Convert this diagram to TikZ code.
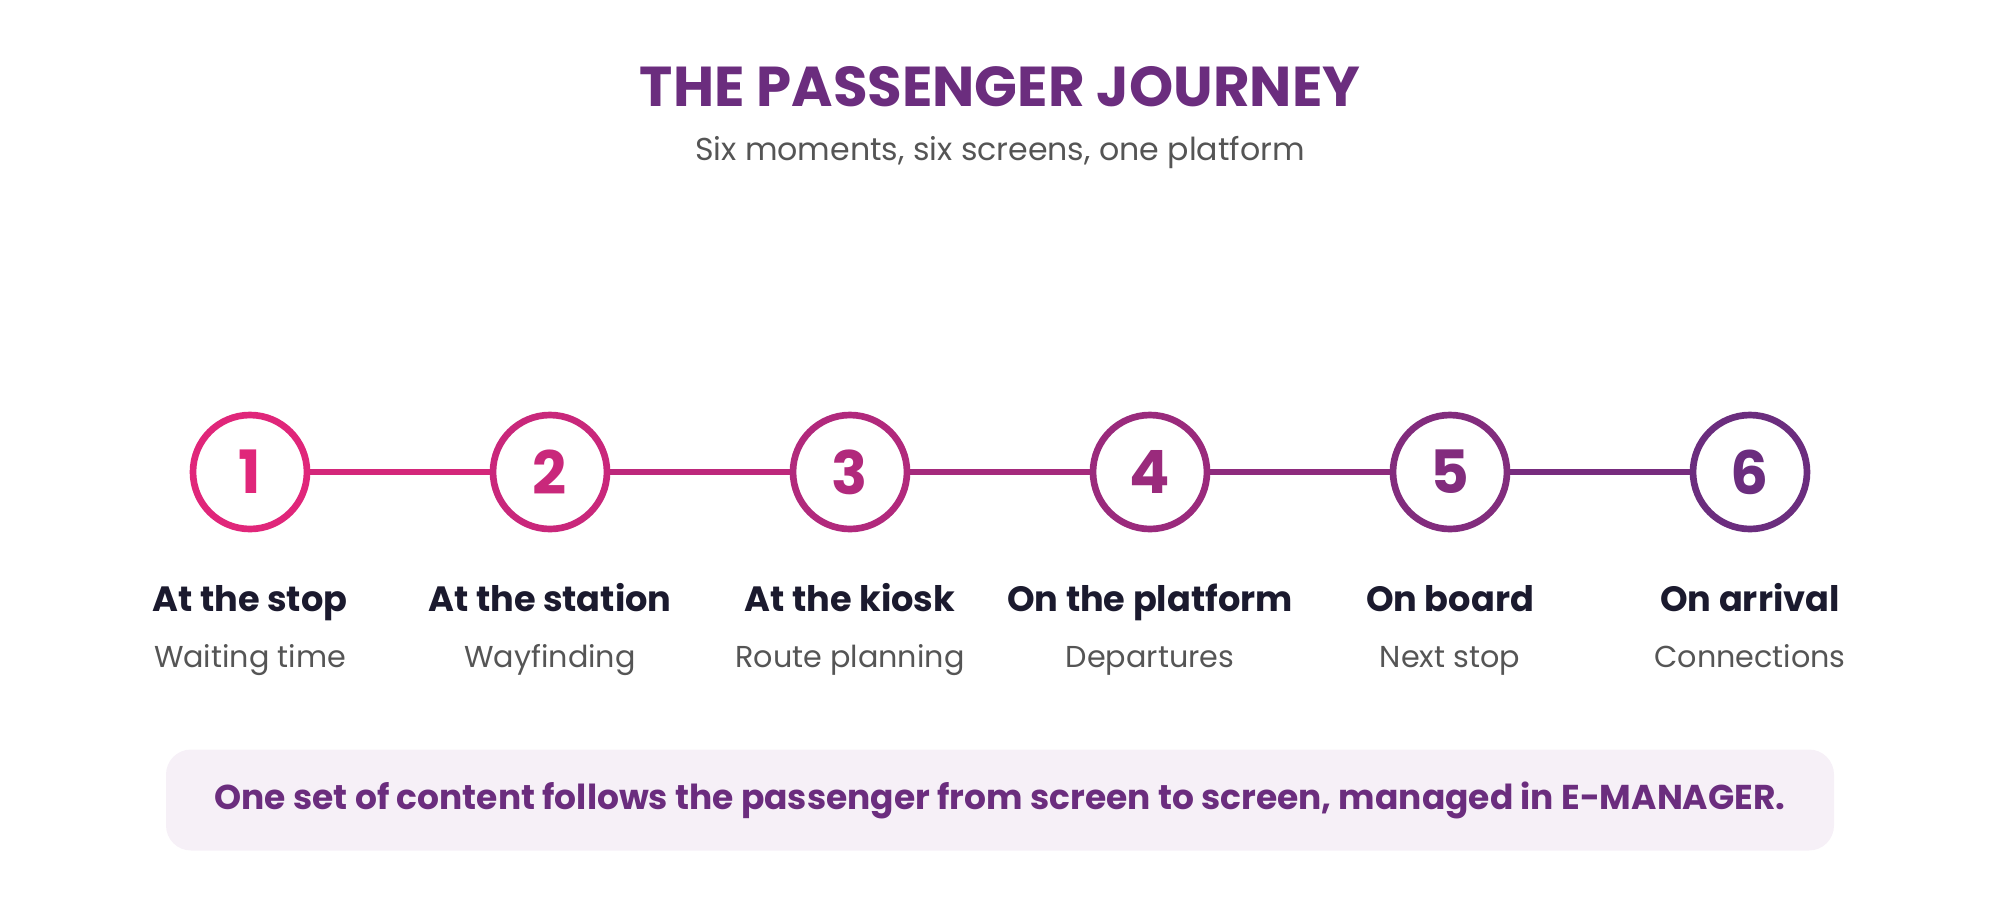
\documentclass[tikz,border=0pt]{standalone}
\usepackage{fontspec}
\setmainfont{Poppins}
\usetikzlibrary{positioning}
\definecolor{jpink}{HTML}{E0267A}
\definecolor{jpurple}{HTML}{6B2D7E}
\definecolor{jdark}{HTML}{1B1A2E}
\definecolor{jgrey}{HTML}{555555}
\definecolor{jbox}{HTML}{F6F0F7}
\tikzset{
  step/.style={circle,draw=#1,line width=1.9pt,fill=white,minimum size=1.14cm,inner sep=0pt,
    text=#1,font=\fontsize{17}{17}\selectfont\bfseries},
  link/.style={line width=1.9pt},
  place/.style={anchor=base,font=\fontsize{10}{12}\selectfont\bfseries,text=jdark},
  what/.style={anchor=base,font=\fontsize{8.6}{11}\selectfont,text=jgrey}
}
\begin{document}
\begin{tikzpicture}
\useasboundingbox (0,0) rectangle (20,-9);
\node[font=\fontsize{16}{18}\selectfont\bfseries,text=jpurple] (title) at (10,-0.87) {THE PASSENGER JOURNEY};
\node[font=\fontsize{9}{11}\selectfont,text=jgrey] (sub) at (10,-1.53) {Six moments, six screens, one platform};
% steps
\foreach \i/\pl/\wh in {1/At the stop/Waiting time,2/At the station/Wayfinding,3/At the kiosk/Route planning,
  4/On the platform/Departures,5/On board/Next stop,6/On arrival/Connections}{
  \pgfmathtruncatemacro{\pct}{(\i-1)*20}
  \colorlet{c\i}{jpurple!\pct!jpink}
  \node[step=c\i] (s\i) at ({2.5+3*(\i-1)},-4.72) {\i};
  \node[place] (p\i) at ({2.5+3*(\i-1)},-6.11) {\pl};
  \node[what] (w\i) at ({2.5+3*(\i-1)},-6.67) {\wh};
}
\foreach \a/\b in {1/2,2/3,3/4,4/5,5/6}{
  \pgfmathtruncatemacro{\pct}{(\a-0.5)*20}
  \draw[link,jpurple!\pct!jpink] (s\a) -- (s\b);
}
\node[fill=jbox,rounded corners=0.25cm,minimum width=16.68cm,minimum height=1.01cm,
  font=\fontsize{9.8}{11}\selectfont\bfseries,text=jpurple] (note) at (10,-8.0)
  {One set of content follows the passenger from screen to screen, managed in E-MANAGER.};
\end{tikzpicture}
\end{document}
